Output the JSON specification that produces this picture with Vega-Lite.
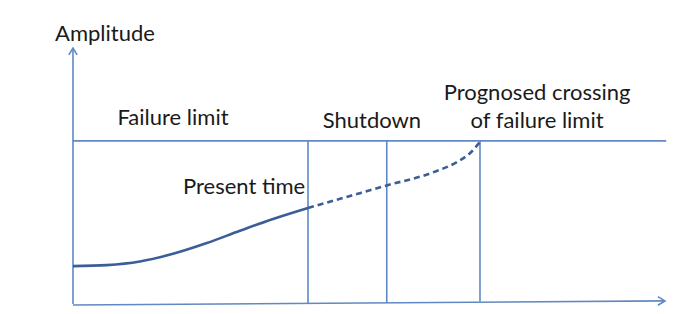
{
  "$schema": "https://vega.github.io/schema/vega-lite/v6.json",
  "width": 676,
  "height": 314,
  "padding": 0,
  "autosize": {"type": "fit", "contains": "padding"},
  "background": "white",
  "config": {"view": {"stroke": null}},
  "datasets": {
    "rules": [
      {"name": "y-axis", "t": 0, "a": 0, "t2": 0, "a2": 100},
      {"name": "x-axis", "t": 0, "a": -0.4, "t2": 100, "a2": 1.2},
      {"name": "failure", "t": 0, "a": 63.7, "t2": 100.2, "a2": 63.7},
      {"name": "present", "t": 39.7, "a": 0, "t2": 39.7, "a2": 63.7},
      {"name": "shutdown", "t": 53.0, "a": 0.5, "t2": 53.0, "a2": 63.7},
      {"name": "crossing", "t": 68.75, "a": 1.0, "t2": 68.75, "a2": 63.7}
    ],
    "arrows": [
      {"id": "y", "ord": 1, "t": -0.7, "a": 97.3},
      {"id": "y", "ord": 2, "t": 0, "a": 100},
      {"id": "y", "ord": 3, "t": 0.7, "a": 97.3},
      {"id": "x", "ord": 1, "t": 98.8, "a": 2.9},
      {"id": "x", "ord": 2, "t": 100, "a": 1.2},
      {"id": "x", "ord": 3, "t": 98.8, "a": -0.5}
    ],
    "curve": [
      {"seg": "actual", "t": 0, "a": 14.8},
      {"seg": "actual", "t": 5.7, "a": 15.2},
      {"seg": "actual", "t": 11.3, "a": 16.6},
      {"seg": "actual", "t": 16.9, "a": 19.6},
      {"seg": "actual", "t": 22.6, "a": 23.8},
      {"seg": "actual", "t": 28.2, "a": 28.6},
      {"seg": "actual", "t": 33.8, "a": 33.2},
      {"seg": "actual", "t": 39.7, "a": 37.5},
      {"seg": "prognosis", "t": 39.7, "a": 37.5},
      {"seg": "prognosis", "t": 46.8, "a": 42.2},
      {"seg": "prognosis", "t": 53.0, "a": 46.3},
      {"seg": "prognosis", "t": 60.8, "a": 51.4},
      {"seg": "prognosis", "t": 64.9, "a": 55.5},
      {"seg": "prognosis", "t": 67.1, "a": 59.0},
      {"seg": "prognosis", "t": 68.75, "a": 63.3}
    ],
    "labels": [
      {"text": "Amplitude", "t": 5.4, "a": 102.7},
      {"text": "Failure limit", "t": 16.9, "a": 69.9},
      {"text": "Shutdown", "t": 50.5, "a": 68.75},
      {"text": "Prognosed crossing", "t": 78.4, "a": 79.7},
      {"text": "of failure limit", "t": 78.4, "a": 68.75},
      {"text": "Present time", "t": 28.9, "a": 43.0}
    ]
  },
  "encoding": {
    "x": {"field": "t", "type": "quantitative", "scale": {"domain": [-12.33, 101.86], "nice": false, "zero": false}, "axis": null},
    "y": {"field": "a", "type": "quantitative", "scale": {"domain": [-3.91, 118.75], "nice": false, "zero": false}, "axis": null}
  },
  "layer": [
    {
      "data": {"name": "rules"},
      "mark": {"type": "rule", "color": "#6088c2", "strokeWidth": 1.6},
      "encoding": {
        "x2": {"field": "t2"},
        "y2": {"field": "a2"}
      }
    },
    {
      "data": {"name": "arrows"},
      "mark": {"type": "line", "color": "#6088c2", "strokeWidth": 1.6},
      "encoding": {
        "detail": {"field": "id"},
        "order": {"field": "ord"}
      }
    },
    {
      "data": {"name": "curve"},
      "transform": [{"filter": "datum.seg === 'actual'"}],
      "mark": {"type": "line", "color": "#3b5e96", "strokeWidth": 2.6, "interpolate": "monotone"},
      "encoding": {}
    },
    {
      "data": {"name": "curve"},
      "transform": [{"filter": "datum.seg === 'prognosis'"}],
      "mark": {"type": "line", "color": "#3b5e96", "strokeWidth": 2.6, "interpolate": "monotone", "strokeDash": [6, 4]},
      "encoding": {}
    },
    {
      "data": {"name": "labels"},
      "mark": {"type": "text", "font": "Lato", "fontSize": 22, "color": "#1a1a1a", "baseline": "alphabetic", "align": "center"},
      "encoding": {
        "text": {"field": "text"}
      }
    }
  ]
}
